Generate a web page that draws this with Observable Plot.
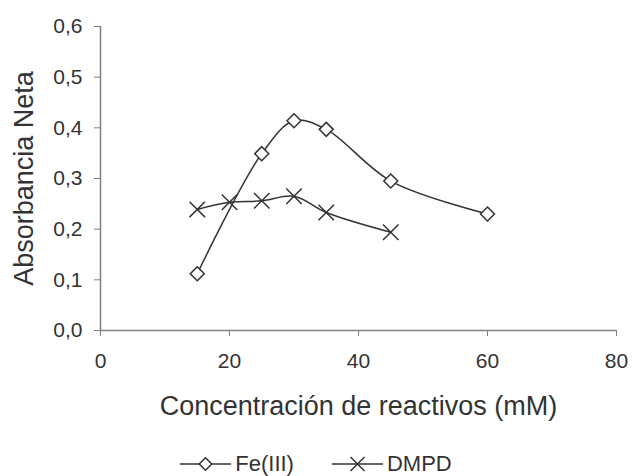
<!DOCTYPE html>
<html>
<head>
<meta charset="utf-8">
<script src="https://cdn.jsdelivr.net/npm/d3@7"></script>
<script src="https://cdn.jsdelivr.net/npm/@observablehq/plot@0.6"></script>
<style>
  html, body { margin: 0; padding: 0; background: #fff; }
  #legend { width: 632px; height: 24px; padding-top: 12px; display: flex; justify-content: center; align-items: center;
            font-family: "Liberation Sans", Arial, sans-serif; font-size: 22px; color: #333; }
  #legend .item { display: flex; align-items: center; }
  #legend svg { display: block; }
</style>
</head>
<body>
<div id="chart"></div>
<div id="legend"></div>
<script>
// Data
const seriesNames = ["Fe(III)", "DMPD"];
const feConc = [15, 25, 30, 35, 45, 60];
const feAbs  = [0.112, 0.349, 0.414, 0.397, 0.295, 0.230];
const dmpdConc = [15, 20, 25, 30, 35, 45];
const dmpdAbs  = [0.239, 0.253, 0.256, 0.265, 0.233, 0.194];
const xTicks = [0, 20, 40, 60, 80];
const yTicks = [0, 0.1, 0.2, 0.3, 0.4, 0.5, 0.6];
const xTitle = "Concentración de reactivos (mM)";
const yTitle = "Absorbancia Neta";

const fe = feConc.map((x, i) => ({x, y: feAbs[i]}));
const dmpd = dmpdConc.map((x, i) => ({x, y: dmpdAbs[i]}));

const ink = "#333333";
const axisGray = "#808080";
const fmt = d => d3.format(".1f")(d).replace(".", ",");

const chart = Plot.plot({
  width: 632,
  height: 440,
  marginLeft: 100,
  marginRight: 16,
  marginTop: 26,
  marginBottom: 110,
  style: {fontFamily: "'Liberation Sans', Arial, sans-serif", fontSize: "21px", color: ink, background: "#fff"},
  x: {domain: [0, 80]},
  y: {domain: [0, 0.6]},
  marks: [
    Plot.axisX({ticks: xTicks, tickFormat: d => String(d), tickSize: 6, tickPadding: 17, stroke: axisGray, fill: ink, label: null, fontSize: 21}),
    Plot.axisY({ticks: yTicks, tickFormat: fmt, tickSize: 6, tickPadding: 12, stroke: axisGray, fill: ink, label: null, fontSize: 21}),
    Plot.ruleY([0], {stroke: axisGray, strokeWidth: 1.5}),
    Plot.ruleX([0], {stroke: axisGray, strokeWidth: 1.5}),
    Plot.line(fe, {x: "x", y: "y", curve: "catmull-rom", stroke: ink, strokeWidth: 1.5}),
    Plot.line(dmpd, {x: "x", y: "y", curve: "catmull-rom", stroke: ink, strokeWidth: 1.5}),
    Plot.dot(fe, {x: "x", y: "y", symbol: "diamond2", r: 6.3, stroke: ink, fill: "white", strokeWidth: 1.5}),
    Plot.dot(dmpd, {x: "x", y: "y", symbol: "times", r: 7.1, stroke: ink, strokeWidth: 1.5}),
    Plot.text([yTitle], {frameAnchor: "left", textAnchor: "middle", rotate: -90, dx: -76, fontSize: 27, fill: ink}),
    Plot.text([xTitle], {frameAnchor: "bottom", dy: 84, fontSize: 27, fill: ink})
  ]
});
document.getElementById("chart").appendChild(chart);

// Legend
const legend = d3.select("#legend");
seriesNames.forEach((name, i) => {
  const item = legend.append("div").attr("class", "item").style("margin-left", i ? "38px" : "0");
  const svg = item.append("svg").attr("width", 51).attr("height", 20);
  svg.append("line").attr("x1", 0).attr("x2", 51).attr("y1", 10).attr("y2", 10).attr("stroke", ink).attr("stroke-width", 1.5);
  if (i === 0) {
    svg.append("path").attr("d", d3.symbol(d3.symbolDiamond2, 100)()).attr("transform", "translate(25.5,10)")
      .attr("fill", "white").attr("stroke", ink).attr("stroke-width", 1.5);
  } else {
    svg.append("path").attr("d", d3.symbol(d3.symbolTimes, 130)()).attr("transform", "translate(25.5,10)")
      .attr("fill", "none").attr("stroke", ink).attr("stroke-width", 1.5);
  }
  item.append("span").style("margin-left", "4px").text(name);
});
</script>
</body>
</html>
